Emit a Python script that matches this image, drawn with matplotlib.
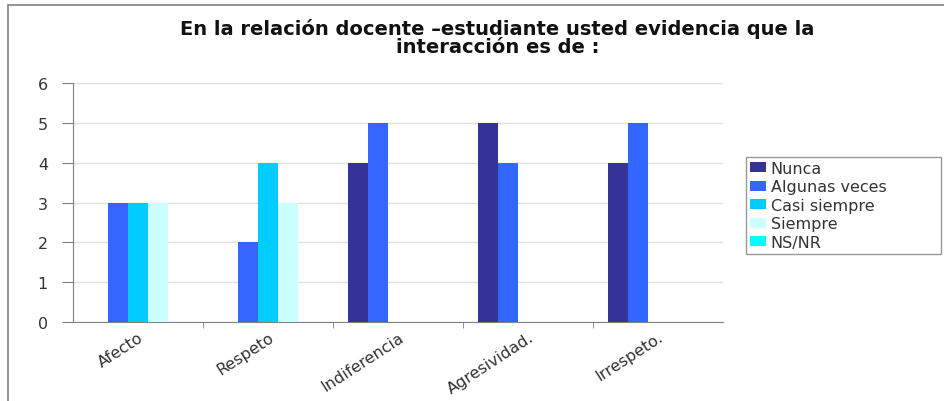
import numpy as np
import matplotlib
matplotlib.use("Agg")
import matplotlib.pyplot as plt
from matplotlib.patches import Rectangle

categorias = ["Afecto", "Respeto", "Indiferencia", "Agresividad.", "Irrespeto."]
series = ["Nunca", "Algunas veces", "Casi siempre", "Siempre", "NS/NR"]
nunca = [0, 0, 4, 5, 4]
algunas = [3, 2, 5, 4, 5]
casi = [3, 4, 0, 0, 0]
siempre = [3, 3, 0, 0, 0]
nsnr = [0, 0, 0, 0, 0]
colores = ["#333399", "#3366FF", "#00CCFF", "#CCFFFF", "#00FFFF"]

fig = plt.figure(figsize=(9.44, 4.02), dpi=100)
# marco del grafico
fig.add_artist(Rectangle((0.0085, -0.01), 1.2, 0.995, transform=fig.transFigure,
                         fill=False, edgecolor="#808080", lw=1.2))

ax = fig.add_axes([0.0773, 0.1965, 0.6886, 0.5945])
x = np.arange(len(categorias))
w = 100 / 130 / 5
for i, (vals, nombre) in enumerate(zip([nunca, algunas, casi, siempre, nsnr], series)):
    ax.bar(x + (i - 2) * w, vals, w, color=colores[i], label=nombre, zorder=3)

ax.set_xlim(-0.5, len(categorias) - 0.5)
ax.set_ylim(0, 6)
ax.set_yticks(range(7))
ax.yaxis.grid(True, color="#E0E0E0", lw=1, zorder=0)
ax.tick_params(axis="y", length=8, color="#808080", labelsize=11.5, pad=10,
               labelcolor="#333333")
ax.set_xticks(x)
ax.set_xticklabels(categorias, rotation=33, ha="right", rotation_mode="anchor",
                   fontsize=11.5, color="#333333")
ax.tick_params(axis="x", length=0, pad=5)
ax.set_xticks(np.arange(0.5, len(categorias) - 1, 1), minor=True)
ax.tick_params(axis="x", which="minor", length=4, color="#808080")
for s in ["top", "right"]:
    ax.spines[s].set_visible(False)
for s in ["left", "bottom"]:
    ax.spines[s].set_color("#808080")

fig.text(0.527, 0.905, "En la relación docente \u2013estudiante usted evidencia que la\ninteracción es de :",
         ha="center", va="center", fontsize=14, fontweight="bold", linespacing=0.95,
         color="#111111")

leg = fig.legend(loc="lower left", bbox_to_anchor=(0.79, 0.366, 0.207, 0.257),
                 mode="expand", fontsize=11.5,
                 frameon=True, fancybox=False, edgecolor="#808080", handlelength=1.0,
                 handleheight=0.6, handletextpad=0.3, labelspacing=0.22, borderpad=0.25,
                 borderaxespad=0)
for t in leg.get_texts():
    t.set_color("#333333")

fig.savefig("out.png", dpi=100)
